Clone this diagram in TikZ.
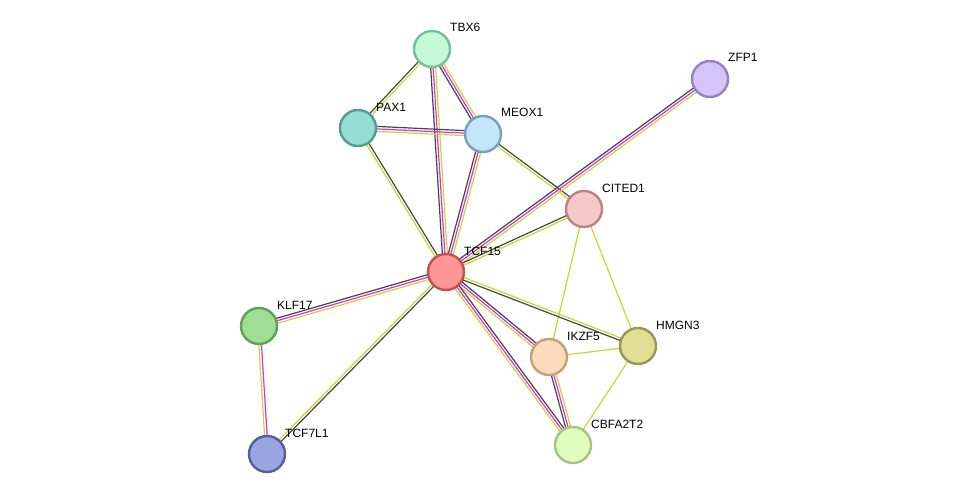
\documentclass[tikz,border=0pt]{standalone}
\usepackage{fontspec}
\setmainfont{Liberation Sans}
\usetikzlibrary{calc}
\pgfdeclarelayer{bg}
\pgfdeclarelayer{canvas}
\pgfsetlayers{canvas,bg,main}
\definecolor{edk}{RGB}{70,70,70}
\definecolor{emg}{RGB}{225,45,225}
\definecolor{eyg}{RGB}{195,218,50}
\newcommand\sedge[4]{\draw[edgeline,#4] ($(#1)!#3!90:(#2)$) -- ($(#2)!#3!-90:(#1)$);}
\tikzset{
  prot/.style={circle, minimum size=36pt, inner sep=0pt, line width=2.4pt},
  lab/.style={anchor=base west, inner sep=0pt, font=\fontsize{12}{12}\selectfont},
  edgeline/.style={line width=1.2pt}
}
\begin{document}
\begin{tikzpicture}[x=1pt,y=-1pt]
\begin{pgfonlayer}{canvas}
\path[use as bounding box, fill=white] (0,0) rectangle (976,500);
\end{pgfonlayer}
% proteins
\node[prot, fill={rgb,255:red,197;green,250;blue,215}, draw={rgb,255:red,120;green,190;blue,150}] (tbx6) at (432,49) {};
\node[prot, fill={rgb,255:red,150;green,222;blue,212}, draw={rgb,255:red,85;green,155;blue,145}] (pax1) at (358,128) {};
\node[prot, fill={rgb,255:red,195;green,230;blue,250}, draw={rgb,255:red,120;green,160;blue,190}] (meox1) at (483,134) {};
\node[prot, fill={rgb,255:red,212;green,196;blue,250}, draw={rgb,255:red,150;green,128;blue,195}] (zfp1) at (710,79) {};
\node[prot, fill={rgb,255:red,246;green,200;blue,200}, draw={rgb,255:red,190;green,130;blue,130}] (cited1) at (584,209) {};
\node[prot, fill={rgb,255:red,255;green,150;blue,150}, draw={rgb,255:red,195;green,80;blue,80}] (tcf15) at (446,272) {};
\node[prot, fill={rgb,255:red,160;green,222;blue,150}, draw={rgb,255:red,95;green,160;blue,90}] (klf17) at (259,326) {};
\node[prot, fill={rgb,255:red,225;green,222;blue,150}, draw={rgb,255:red,155;green,150;blue,85}] (hmgn3) at (638,346) {};
\node[prot, fill={rgb,255:red,253;green,220;blue,190}, draw={rgb,255:red,200;green,160;blue,120}] (ikzf5) at (549,357) {};
\node[prot, fill={rgb,255:red,155;green,165;blue,225}, draw={rgb,255:red,85;green,95;blue,160}] (tcf7l1) at (267,454) {};
\node[prot, fill={rgb,255:red,225;green,253;blue,190}, draw={rgb,255:red,165;green,195;blue,130}] (cbfa2t2) at (573,445) {};
% labels
\node[lab] (ltbx6) at ($(tbx6)+(18,-17)$) {TBX6};
\node[lab] (lpax1) at ($(pax1)+(18,-17)$) {PAX1};
\node[lab] (lmeox1) at ($(meox1)+(18,-17)$) {MEOX1};
\node[lab] (lzfp1) at ($(zfp1)+(18,-17)$) {ZFP1};
\node[lab] (lcited1) at ($(cited1)+(18,-17)$) {CITED1};
\node[lab] (ltcf15) at ($(tcf15)+(18,-17)$) {TCF15};
\node[lab] (lklf17) at ($(klf17)+(18,-17)$) {KLF17};
\node[lab] (lhmgn3) at ($(hmgn3)+(18,-17)$) {HMGN3};
\node[lab] (likzf5) at ($(ikzf5)+(18,-17)$) {IKZF5};
\node[lab] (ltcf7l1) at ($(tcf7l1)+(18,-17)$) {TCF7L1};
\node[lab] (lcbfa2t2) at ($(cbfa2t2)+(18,-17)$) {CBFA2T2};
% edges
\begin{pgfonlayer}{bg}
% TBX6-PAX1
\sedge{pax1}{tbx6}{1.3pt}{edk}
\sedge{pax1}{tbx6}{-1.3pt}{eyg}
% TBX6-TCF15
\sedge{tcf15}{tbx6}{2.5pt}{edk}
\sedge{tcf15}{tbx6}{0pt}{emg}
\sedge{tcf15}{tbx6}{-2.5pt}{eyg}
% TBX6-MEOX1
\sedge{meox1}{tbx6}{2.5pt}{edk}
\sedge{meox1}{tbx6}{0pt}{emg}
\sedge{meox1}{tbx6}{-2.5pt}{eyg}
% PAX1-MEOX1
\sedge{pax1}{meox1}{2.5pt}{edk}
\sedge{pax1}{meox1}{0pt}{emg}
\sedge{pax1}{meox1}{-2.5pt}{eyg}
% PAX1-TCF15
\sedge{tcf15}{pax1}{-1.3pt}{edk}
\sedge{tcf15}{pax1}{1.3pt}{eyg}
% MEOX1-TCF15
\sedge{tcf15}{meox1}{2.5pt}{edk}
\sedge{tcf15}{meox1}{0pt}{emg}
\sedge{tcf15}{meox1}{-2.5pt}{eyg}
% MEOX1-CITED1
\sedge{meox1}{cited1}{1.3pt}{edk}
\sedge{meox1}{cited1}{-1.3pt}{eyg}
% ZFP1-TCF15
\sedge{tcf15}{zfp1}{2.5pt}{edk}
\sedge{tcf15}{zfp1}{0pt}{emg}
\sedge{tcf15}{zfp1}{-2.5pt}{eyg}
% CITED1-TCF15
\sedge{tcf15}{cited1}{1.3pt}{edk}
\sedge{tcf15}{cited1}{-1.3pt}{eyg}
% CITED1-IKZF5, CITED1-HMGN3
\sedge{cited1}{ikzf5}{0pt}{eyg}
\sedge{cited1}{hmgn3}{0pt}{eyg}
% KLF17-TCF15
\sedge{klf17}{tcf15}{2.5pt}{edk}
\sedge{klf17}{tcf15}{0pt}{emg}
\sedge{klf17}{tcf15}{-2.5pt}{eyg}
% KLF17-TCF7L1
\sedge{tcf7l1}{klf17}{1.3pt}{eyg}
\sedge{tcf7l1}{klf17}{-1.3pt}{emg}
% TCF7L1-TCF15
\sedge{tcf7l1}{tcf15}{1.3pt}{eyg}
\sedge{tcf7l1}{tcf15}{-1.3pt}{edk}
% TCF15-HMGN3
\sedge{tcf15}{hmgn3}{1.3pt}{eyg}
\sedge{tcf15}{hmgn3}{-1.3pt}{edk}
% TCF15-IKZF5
\sedge{tcf15}{ikzf5}{2.5pt}{edk}
\sedge{tcf15}{ikzf5}{0pt}{emg}
\sedge{tcf15}{ikzf5}{-2.5pt}{eyg}
% TCF15-CBFA2T2
\sedge{tcf15}{cbfa2t2}{2.5pt}{edk}
\sedge{tcf15}{cbfa2t2}{0pt}{emg}
\sedge{tcf15}{cbfa2t2}{-2.5pt}{eyg}
% IKZF5-CBFA2T2
\sedge{cbfa2t2}{ikzf5}{2.5pt}{edk}
\sedge{cbfa2t2}{ikzf5}{0pt}{emg}
\sedge{cbfa2t2}{ikzf5}{-2.5pt}{eyg}
% IKZF5-HMGN3, HMGN3-CBFA2T2
\sedge{ikzf5}{hmgn3}{0pt}{eyg}
\sedge{hmgn3}{cbfa2t2}{0pt}{eyg}
\end{pgfonlayer}
\end{tikzpicture}
\end{document}
